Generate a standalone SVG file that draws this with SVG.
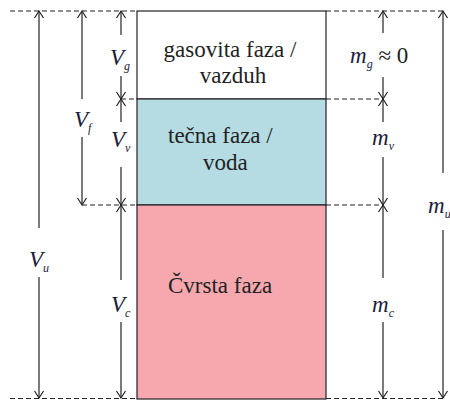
<svg xmlns="http://www.w3.org/2000/svg" width="450" height="400" viewBox="0 0 450 400">
<style>
.bx{stroke:#222;stroke-width:1.2}
.dash{stroke:#222;stroke-width:1.1;stroke-dasharray:5,3;fill:none}
.dim{stroke:#222;stroke-width:1.2;fill:none;marker-start:url(#ah);}
.dimE{stroke:#222;stroke-width:1.2;fill:none;marker-end:url(#ah);}
.ph{font-family:"Liberation Serif","Times New Roman",serif;font-size:23px;fill:#222}
.lb{font-family:"Liberation Serif","Times New Roman",serif;font-size:23px;font-style:italic;fill:#1c1c3c}
.sb{font-size:12px}
</style>
<defs>
<marker id="ah" viewBox="-9 -6 11 12" refX="0" refY="0" markerWidth="11" markerHeight="12" markerUnits="userSpaceOnUse" orient="auto-start-reverse">
<path d="M-7,-4.5 L0,0 L-7,4.5" fill="none" stroke="#222" stroke-width="1.2"/>
</marker>
</defs>
<g id="gas">
<rect x="137" y="11" width="189" height="88" class="bx" style="fill:#ffffff"/>
<text class="ph" x="230" y="57" text-anchor="middle">gasovita faza /</text>
<text class="ph" x="233" y="83" text-anchor="middle">vazduh</text>
</g>
<g id="voda">
<rect x="137" y="99" width="189" height="106" class="bx" style="fill:#b5dce3"/>
<text class="ph" x="168" y="143">tečna faza /</text>
<text class="ph" x="203" y="170">voda</text>
</g>
<g id="cvrsta">
<rect x="137" y="205" width="189" height="194" class="bx" style="fill:#f6a8ae"/>
<text class="ph" x="168" y="293">Čvrsta faza</text>
</g>
<g id="connectors">
<path class="dash" d="M10,11 H137 M326,11 H445 M121,99 H137 M326,99 H383 M82,205 H137 M326,205 H383 M10,398.5 H137 M326,398.5 H445"/>
<line class="dim" x1="39" y1="11" x2="39" y2="228"/>
<line class="dimE" x1="39" y1="277" x2="39" y2="398"/>
<line class="dim" x1="82" y1="11" x2="82" y2="99"/>
<line class="dimE" x1="82" y1="137" x2="82" y2="205"/>
<line class="dim" x1="121" y1="11" x2="121" y2="35"/>
<line class="dimE" x1="121" y1="76" x2="121" y2="99"/>
<line class="dim" x1="121" y1="99" x2="121" y2="122"/>
<line class="dimE" x1="121" y1="167" x2="121" y2="205"/>
<line class="dim" x1="121" y1="205" x2="121" y2="280"/>
<line class="dimE" x1="121" y1="322" x2="121" y2="398"/>
<line class="dim" x1="383" y1="11" x2="383" y2="33"/>
<line class="dimE" x1="383" y1="77" x2="383" y2="99"/>
<line class="dim" x1="383" y1="99" x2="383" y2="122"/>
<line class="dimE" x1="383" y1="157" x2="383" y2="205"/>
<line class="dim" x1="383" y1="205" x2="383" y2="278"/>
<line class="dimE" x1="383" y1="322" x2="383" y2="398"/>
<line class="dim" x1="443" y1="11" x2="443" y2="173"/>
<line class="dimE" x1="443" y1="230" x2="443" y2="398"/>
</g>
<g id="labels">
<text class="lb" x="110" y="65">V<tspan class="sb" dy="5">g</tspan></text>
<text class="lb" x="74" y="127">V<tspan class="sb" dy="5">f</tspan></text>
<text class="lb" x="111" y="147">V<tspan class="sb" dy="5">v</tspan></text>
<text class="lb" x="29" y="267">V<tspan class="sb" dy="5">u</tspan></text>
<text class="lb" x="111" y="312">V<tspan class="sb" dy="5">c</tspan></text>
<text class="lb" x="350" y="63">m<tspan class="sb" dy="5">g</tspan><tspan dy="-5" font-style="normal" fill="#222"> ≈ 0</tspan></text>
<text class="lb" x="372" y="145">m<tspan class="sb" dy="5">v</tspan></text>
<text class="lb" x="428" y="213">m<tspan class="sb" dy="5">u</tspan></text>
<text class="lb" x="372" y="312">m<tspan class="sb" dy="5">c</tspan></text>
</g>
</svg>
